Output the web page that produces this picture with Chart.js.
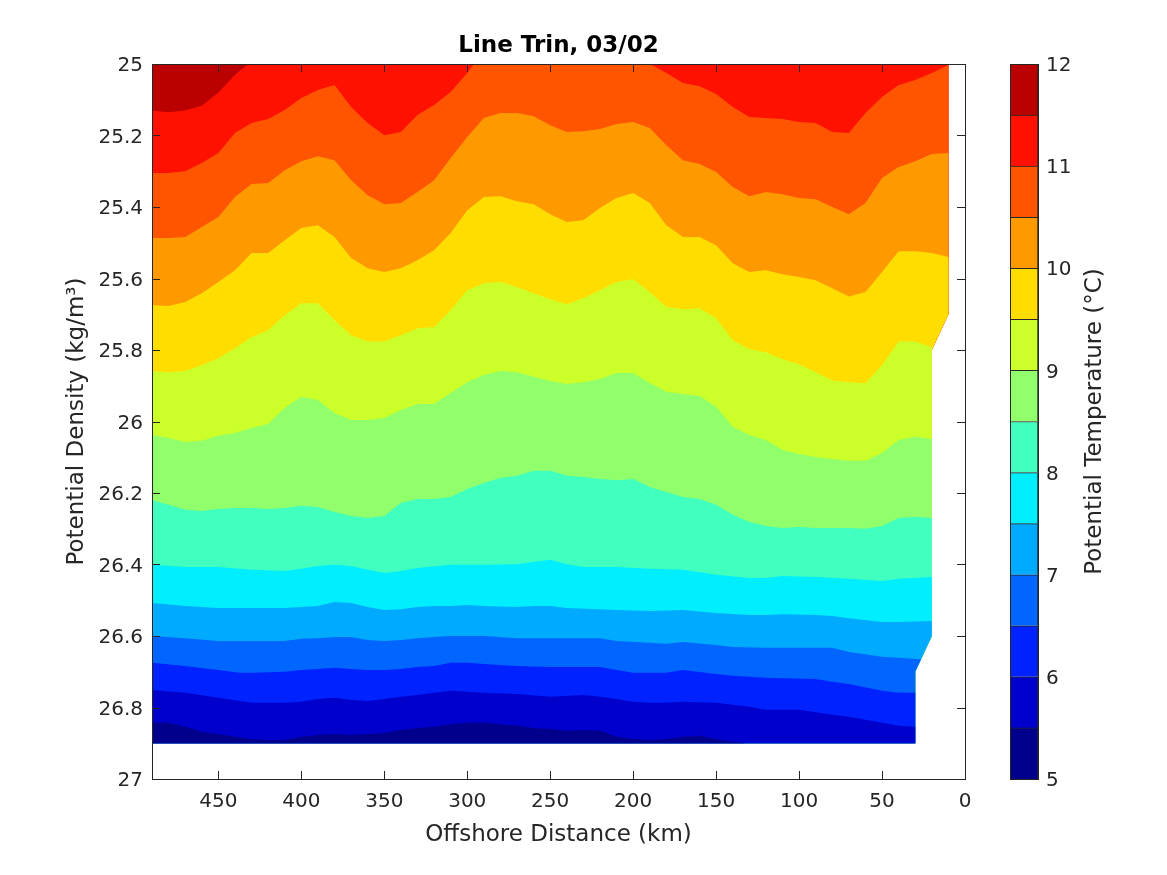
<!DOCTYPE html>
<html><head><meta charset="utf-8">
<script src="https://cdn.jsdelivr.net/npm/chart.js@4/dist/chart.umd.min.js"></script>
<style>
html,body{margin:0;padding:0;background:#fff;width:1167px;height:875px;overflow:hidden}
#wrapMain{position:absolute;left:0;top:0;width:1167px;height:875px}
#wrapBar{position:absolute;left:1000px;top:0;width:167px;height:875px}
</style></head><body>
<div id="wrapMain"><canvas id="main" width="1167" height="875"></canvas></div>
<div id="wrapBar"><canvas id="bar" width="167" height="875"></canvas></div>
<script>
const titleText = "Line Trin, 03/02";
const xLabel = "Offshore Distance (km)";
const yLabel = "Potential Density (kg/m³)";
const barLabel = "Potential Temperature (°C)";
const barTicks = [5,6,7,8,9,10,11,12];
const bandLow = [5,5.5,6,6.5,7,7.5,8,8.5,9,9.5,10,10.5,11,11.5];
const bandColors = ["#00008c","#0000cc","#0022ff","#0066ff","#00aaff","#00eeff","#40ffbf","#91ff6b","#ccff2a","#ffdd00","#ff9900","#ff5500","#ff1100","#bb0000"];

// Outline of the sampled section: [distance km, density]
const rightEdge = [[10,25],[10,25.7],[20,25.8],[20,26.6],[30,26.7],[30,26.9]];
const bottomDensity = 26.9;
const farDistance = 490;

// Isotherms: [distance km, density]
const iso120 = [[490,25]];
const iso115 = [[490,25.13],[480,25.135],[470,25.13],[460,25.117],[450,25.08],[440,25.03],[432,25]];
const iso110 = [[490,25.305],[480,25.305],[470,25.3],[460,25.277],[450,25.249],[440,25.193],[430,25.165],[420,25.154],[410,25.129],[400,25.095],[390,25.073],[380,25.059],[370,25.12],[360,25.165],[350,25.199],[340,25.19],[330,25.143],[320,25.115],[310,25.078],[300,25.025],[296,25],[190,25],[180,25.025],[170,25.053],[160,25.062],[150,25.084],[140,25.12],[130,25.148],[120,25.151],[110,25.154],[100,25.162],[90,25.165],[80,25.19],[70,25.193],[60,25.137],[50,25.092],[40,25.059],[30,25.045],[20,25.025],[10,25.003]];
const iso105 = [[490,25.487],[480,25.487],[470,25.484],[460,25.456],[450,25.428],[440,25.372],[430,25.336],[420,25.333],[410,25.297],[400,25.272],[390,25.258],[380,25.269],[370,25.325],[360,25.367],[350,25.392],[340,25.389],[330,25.358],[320,25.325],[310,25.263],[300,25.204],[290,25.151],[280,25.137],[270,25.137],[260,25.146],[250,25.171],[240,25.19],[230,25.188],[220,25.182],[210,25.168],[200,25.162],[190,25.179],[180,25.227],[170,25.269],[160,25.28],[150,25.302],[140,25.344],[130,25.37],[120,25.358],[110,25.364],[100,25.375],[90,25.378],[80,25.4],[70,25.42],[60,25.389],[50,25.319],[40,25.288],[30,25.272],[20,25.252],[10,25.249]];
const iso100 = [[490,25.674],[480,25.677],[470,25.666],[460,25.641],[450,25.61],[440,25.577],[430,25.529],[420,25.529],[410,25.493],[400,25.459],[390,25.451],[380,25.484],[370,25.543],[360,25.571],[350,25.582],[340,25.571],[330,25.549],[320,25.521],[310,25.473],[300,25.409],[290,25.372],[280,25.37],[270,25.384],[260,25.392],[250,25.42],[240,25.442],[230,25.437],[220,25.403],[210,25.375],[200,25.361],[190,25.389],[180,25.451],[170,25.484],[160,25.484],[150,25.507],[140,25.557],[130,25.582],[120,25.577],[110,25.588],[100,25.596],[90,25.605],[80,25.627],[70,25.65],[60,25.638],[50,25.582],[40,25.524],[30,25.524],[20,25.529],[10,25.54]];
const iso95 = [[490,25.859],[480,25.862],[470,25.859],[460,25.843],[450,25.823],[440,25.795],[430,25.764],[420,25.745],[410,25.703],[400,25.669],[390,25.669],[380,25.717],[370,25.759],[360,25.776],[350,25.776],[340,25.759],[330,25.739],[320,25.736],[310,25.689],[300,25.633],[290,25.613],[280,25.61],[270,25.624],[260,25.641],[250,25.658],[240,25.672],[230,25.655],[220,25.633],[210,25.61],[200,25.602],[190,25.638],[180,25.68],[170,25.686],[160,25.683],[150,25.711],[140,25.773],[130,25.798],[120,25.806],[110,25.826],[100,25.84],[90,25.862],[80,25.885],[70,25.89],[60,25.893],[50,25.843],[40,25.776],[30,25.776],[20,25.792]];
const iso90 = [[490,26.038],[480,26.046],[470,26.057],[460,26.054],[450,26.04],[440,26.032],[430,26.018],[420,26.007],[410,25.962],[400,25.931],[390,25.94],[380,25.976],[370,25.996],[360,25.996],[350,25.99],[340,25.968],[330,25.951],[320,25.951],[310,25.92],[300,25.89],[290,25.87],[280,25.859],[270,25.862],[260,25.875],[250,25.887],[240,25.895],[230,25.89],[220,25.881],[210,25.864],[200,25.864],[190,25.892],[180,25.917],[170,25.923],[160,25.929],[150,25.959],[140,26.015],[130,26.038],[120,26.052],[110,26.08],[100,26.091],[90,26.099],[80,26.105],[70,26.11],[60,26.11],[50,26.088],[40,26.052],[30,26.043],[20,26.049]];
const iso85 = [[490,26.22],[480,26.233],[470,26.247],[460,26.25],[450,26.245],[440,26.242],[430,26.242],[420,26.245],[410,26.242],[400,26.236],[390,26.239],[380,26.253],[370,26.264],[360,26.27],[350,26.264],[340,26.228],[330,26.217],[320,26.217],[310,26.211],[300,26.189],[290,26.172],[280,26.158],[270,26.152],[260,26.138],[250,26.138],[240,26.152],[230,26.155],[220,26.161],[210,26.164],[200,26.161],[190,26.183],[180,26.197],[170,26.211],[160,26.217],[150,26.233],[140,26.261],[130,26.281],[120,26.292],[110,26.298],[100,26.295],[90,26.298],[80,26.298],[70,26.298],[60,26.3],[50,26.292],[40,26.27],[30,26.267],[20,26.27]];
const iso80 = [[490,26.401],[470,26.407],[450,26.407],[430,26.415],[410,26.418],[400,26.412],[390,26.404],[380,26.401],[370,26.404],[360,26.415],[350,26.424],[340,26.418],[330,26.41],[310,26.401],[290,26.401],[270,26.399],[260,26.393],[250,26.387],[240,26.399],[230,26.407],[210,26.407],[190,26.412],[170,26.415],[150,26.429],[130,26.438],[120,26.438],[110,26.432],[90,26.435],[70,26.44],[50,26.446],[40,26.44],[20,26.435]];
const iso75 = [[490,26.508],[470,26.516],[450,26.522],[430,26.522],[410,26.522],[400,26.519],[390,26.516],[380,26.505],[370,26.508],[360,26.519],[350,26.527],[340,26.525],[330,26.519],[320,26.516],[310,26.516],[300,26.513],[290,26.516],[270,26.519],[260,26.516],[250,26.516],[240,26.522],[220,26.525],[210,26.527],[190,26.53],[170,26.527],[150,26.536],[130,26.541],[120,26.541],[110,26.539],[90,26.541],[80,26.544],[70,26.55],[50,26.561],[40,26.561],[20,26.558]];
const iso70 = [[490,26.6],[470,26.606],[450,26.614],[430,26.614],[410,26.614],[400,26.608],[390,26.606],[380,26.603],[370,26.603],[360,26.611],[350,26.614],[340,26.611],[330,26.606],[320,26.603],[310,26.6],[290,26.6],[270,26.606],[250,26.606],[230,26.606],[220,26.606],[210,26.614],[190,26.619],[180,26.622],[170,26.617],[150,26.625],[140,26.631],[120,26.633],[90,26.633],[80,26.633],[70,26.645],[50,26.658],[40,26.661],[26.5,26.665]];
const iso65 = [[490,26.675],[470,26.684],[450,26.695],[437,26.703],[430,26.703],[410,26.7],[400,26.695],[390,26.692],[380,26.689],[370,26.692],[360,26.695],[350,26.695],[340,26.692],[330,26.687],[320,26.684],[310,26.675],[300,26.675],[290,26.678],[270,26.684],[250,26.687],[230,26.687],[220,26.687],[210,26.695],[200,26.703],[190,26.703],[180,26.703],[170,26.695],[150,26.706],[140,26.711],[120,26.717],[90,26.72],[80,26.728],[70,26.734],[50,26.753],[40,26.759],[30,26.759]];
const iso60 = [[490,26.751],[470,26.759],[450,26.773],[430,26.787],[410,26.787],[400,26.784],[390,26.776],[380,26.773],[370,26.779],[360,26.782],[350,26.776],[340,26.77],[330,26.765],[320,26.759],[310,26.753],[290,26.759],[270,26.762],[250,26.77],[230,26.765],[220,26.77],[210,26.776],[200,26.784],[190,26.787],[180,26.787],[170,26.784],[150,26.787],[130,26.798],[120,26.806],[100,26.806],[80,26.82],[70,26.826],[50,26.843],[40,26.851],[30,26.854]];
const iso55 = [[490,26.843],[480,26.843],[470,26.854],[460,26.868],[450,26.874],[440,26.882],[430,26.888],[420,26.891],[410,26.891],[400,26.882],[390,26.877],[380,26.874],[370,26.877],[360,26.874],[350,26.871],[340,26.863],[330,26.857],[320,26.854],[310,26.846],[300,26.843],[290,26.843],[270,26.851],[260,26.857],[250,26.86],[240,26.865],[230,26.863],[220,26.865],[210,26.882],[200,26.888],[190,26.891],[180,26.888],[170,26.882],[160,26.879],[150,26.888],[140,26.896],[132,26.9]];

const isotherms = [iso55,iso60,iso65,iso70,iso75,iso80,iso85,iso90,iso95,iso100,iso105,iso110,iso115,iso120];

const ink = "#262626";
const FONT = "'DejaVu Sans'";
Chart.defaults.font.family = FONT;
Chart.defaults.color = ink;
Chart.defaults.animation = false;

const datasets = isotherms.map((iso, i) => {
  const last = iso[iso.length - 1];
  const below = rightEdge.filter(p => p[1] >= last[1]);
  const pts = [...iso, ...below, [farDistance, bottomDensity]];
  return {
    data: pts.map(p => ({x: p[0], y: p[1]})),
    showLine: true, fill: "shape",
    backgroundColor: bandColors[i], borderColor: bandColors[i], borderWidth: 0,
    pointRadius: 0, tension: 0, order: i
  };
});

const frame = {
  id: "frame",
  afterDraw(chart) {
    const {ctx, chartArea: a, scales} = chart;
    const len = 8;
    ctx.save();
    ctx.strokeStyle = ink; ctx.lineWidth = 1;
    ctx.beginPath();
    scales.x.ticks.forEach(t => {
      const p = Math.round(scales.x.getPixelForValue(t.value)) + .5;
      ctx.moveTo(p, a.bottom); ctx.lineTo(p, a.bottom - len);
      ctx.moveTo(p, a.top); ctx.lineTo(p, a.top + len);
    });
    scales.y.ticks.forEach(t => {
      const p = Math.round(scales.y.getPixelForValue(t.value)) + .5;
      ctx.moveTo(a.left, p); ctx.lineTo(a.left + len, p);
      ctx.moveTo(a.right, p); ctx.lineTo(a.right - len, p);
    });
    ctx.stroke();
    ctx.strokeRect(a.left + .5, a.top + .5, a.right - a.left, a.bottom - a.top);
    ctx.restore();
  }
};

new Chart(document.getElementById("main"), {
  type: "scatter",
  data: {datasets},
  plugins: [frame],
  options: {
    responsive: false,
    layout: {padding: {right: 202}},
    plugins: {
      legend: {display: false}, tooltip: {enabled: false},
      title: {display: true, text: titleText, fullSize: false, color: "#000",
        font: {size: 23, weight: "bold", family: FONT}, padding: {top: 32, bottom: 4.4}}
    },
    scales: {
      x: {
        type: "linear", reverse: true, min: 0, max: 490,
        grid: {display: false}, border: {display: false},
        ticks: {stepSize: 50, includeBounds: false, maxRotation: 0, padding: 3, font: {size: 20}, color: ink},
        title: {display: true, text: xLabel, color: ink, font: {size: 23}, padding: {top: 26, bottom: 26}},
        afterFit(s) { s.height = 96; }
      },
      y: {
        type: "linear", reverse: true, min: 25, max: 27,
        grid: {display: false}, border: {display: false},
        ticks: {stepSize: 0.2, padding: 1, labelOffset: 2, font: {size: 20}, color: ink,
          callback: v => String(+(+v).toFixed(1))},
        title: {display: true, text: yLabel, color: ink, font: {size: 23}, padding: {top: 63, bottom: 63}},
        afterFit(s) { s.width = 152; }
      }
    }
  }
});

const barFrame = {
  id: "barFrame",
  afterDraw(chart) {
    const {ctx, chartArea: a} = chart;
    ctx.save();
    ctx.strokeStyle = ink; ctx.lineWidth = 1;
    ctx.strokeRect(a.left + .5, a.top + .5, a.right - a.left, a.bottom - a.top);
    ctx.font = "23px " + FONT;
    ctx.fillStyle = ink;
    ctx.textAlign = "center";
    ctx.textBaseline = "middle";
    ctx.translate(a.right + 57, (a.top + a.bottom) / 2);
    ctx.rotate(-Math.PI / 2);
    ctx.fillText(barLabel, 0, 0);
    ctx.restore();
  }
};

new Chart(document.getElementById("bar"), {
  type: "bar",
  data: {
    labels: ["T"],
    datasets: bandLow.map((low, i) => ({
      data: [[low, low + 0.5]],
      backgroundColor: bandColors[i],
      borderColor: ink, borderWidth: 1,
      barPercentage: 1, categoryPercentage: 1, grouped: false
    }))
  },
  plugins: [barFrame],
  options: {
    responsive: false,
    layout: {padding: {left: 10, top: 64, bottom: 96}},
    plugins: {legend: {display: false}, tooltip: {enabled: false}},
    scales: {
      x: {display: false},
      y: {
        position: "right", min: 5, max: 12,
        grid: {display: false}, border: {display: false},
        ticks: {stepSize: 1, padding: 0, labelOffset: 2, font: {size: 20}, color: ink},
        afterFit(s) { s.width = 129; }
      }
    }
  }
});
</script>
</body></html>
